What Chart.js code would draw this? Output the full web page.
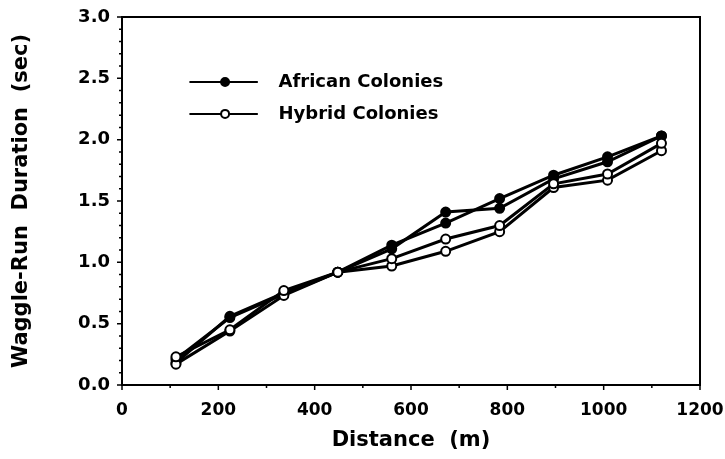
<!DOCTYPE html>
<html>
<head>
<meta charset="utf-8">
<script src="https://cdn.jsdelivr.net/npm/chart.js"></script>
<style>
  html, body { margin: 0; padding: 0; background: #fff; }
  #wrap { width: 725px; height: 459px; }
</style>
</head>
<body>
<div id="wrap"><canvas id="chart" width="725" height="459"></canvas></div>
<script>
// distances (m) and waggle-run durations (sec)
const distances = [112, 224, 336, 448, 560, 672, 784, 896, 1008, 1120];
const african1 = [0.18, 0.56, 0.75, 0.92, 1.11, 1.41, 1.44, 1.68, 1.82, 2.03];
const african2 = [0.21, 0.55, 0.74, 0.92, 1.14, 1.32, 1.52, 1.71, 1.86, 2.03];
const hybrid1  = [0.23, 0.45, 0.77, 0.92, 1.03, 1.19, 1.30, 1.64, 1.72, 1.97];
const hybrid2  = [0.17, 0.44, 0.73, 0.92, 0.97, 1.09, 1.25, 1.61, 1.67, 1.91];
const legendLabels = ['African Colonies', 'Hybrid Colonies'];
const xTicks = [0, 200, 400, 600, 800, 1000, 1200];
const yTicks = [0, 0.5, 1.0, 1.5, 2.0, 2.5, 3.0];

const FONT = 'DejaVu Sans';

const pts = vals => vals.map((v, i) => ({ x: distances[i], y: v }));

const series = (vals, filled) => ({
  data: pts(vals),
  borderColor: '#000',
  borderWidth: 3,
  pointRadius: 4.5,
  pointBorderWidth: 2,
  pointBorderColor: '#000',
  pointBackgroundColor: filled ? '#000' : '#fff',
  tension: 0,
  fill: false
});

// box frame + major/minor ticks
const framePlugin = {
  id: 'frame',
  afterDatasetsDraw(chart) {
    const { ctx, chartArea: a, scales: { x, y } } = chart;
    ctx.save();
    ctx.strokeStyle = '#000';
    ctx.lineWidth = 2;
    ctx.strokeRect(a.left, a.top, a.right - a.left, a.bottom - a.top);
    ctx.lineWidth = 1.5;
    ctx.beginPath();
    for (let v = 0; v <= 1200; v += 100) {
      const px = x.getPixelForValue(v);
      const len = v % 200 === 0 ? 5 : 3;
      ctx.moveTo(px, a.bottom);
      ctx.lineTo(px, a.bottom + len);
    }
    for (let k = 0; k <= 30; k++) {
      const py = y.getPixelForValue(k / 10);
      const len = k % 5 === 0 ? 5 : 3;
      ctx.moveTo(a.left, py);
      ctx.lineTo(a.left - len, py);
    }
    ctx.stroke();
    ctx.restore();
  }
};

// legend drawn inside the plot area
const legendPlugin = {
  id: 'insideLegend',
  afterDraw(chart) {
    const { ctx, scales: { x, y } } = chart;
    const rows = [
      { label: legendLabels[0], filled: true, val: 2.47 },
      { label: legendLabels[1], filled: false, val: 2.21 }
    ];
    ctx.save();
    rows.forEach(r => {
      const py = y.getPixelForValue(r.val);
      const x0 = x.getPixelForValue(140);
      const x1 = x.getPixelForValue(282);
      const xm = x.getPixelForValue(214);
      ctx.strokeStyle = '#000';
      ctx.lineWidth = 2;
      ctx.beginPath();
      ctx.moveTo(x0, py);
      ctx.lineTo(x1, py);
      ctx.stroke();
      ctx.beginPath();
      ctx.arc(xm, py, 4, 0, Math.PI * 2);
      ctx.fillStyle = r.filled ? '#000' : '#fff';
      ctx.fill();
      ctx.lineWidth = 2;
      ctx.stroke();
      ctx.fillStyle = '#000';
      ctx.font = 'bold 18px "' + FONT + '"';
      ctx.textBaseline = 'middle';
      ctx.textAlign = 'left';
      ctx.fillText(r.label, x.getPixelForValue(325), py);
    });
    ctx.restore();
  }
};

new Chart(document.getElementById('chart'), {
  type: 'line',
  data: {
    datasets: [
      series(hybrid1, false),
      series(hybrid2, false),
      series(african1, true),
      series(african2, true)
    ]
  },
  options: {
    responsive: false,
    animation: false,
    layout: { padding: { top: 17, right: 25, left: 0, bottom: 0 } },
    plugins: {
      legend: { display: false },
      tooltip: { enabled: false }
    },
    scales: {
      x: {
        type: 'linear',
        min: 0,
        max: 1200,
        afterFit(s) { s.height = 74; s.paddingLeft = 0; s.paddingRight = 0; },
        afterBuildTicks(s) { s.ticks = xTicks.map(v => ({ value: v })); },
        grid: { display: false, drawTicks: false },
        border: { display: false },
        ticks: {
          color: '#000',
          padding: 15,
          maxRotation: 0,
          callback: v => String(v),
          font: { family: FONT, size: 17, weight: 'bold' }
        },
        title: {
          display: true,
          text: 'Distance  (m)',
          color: '#000',
          padding: { top: 0, bottom: 6 },
          font: { family: FONT, size: 21, weight: 'bold' }
        }
      },
      y: {
        type: 'linear',
        min: 0,
        max: 3,
        afterFit(s) { s.width = 122; s.paddingTop = 0; s.paddingBottom = 0; },
        afterBuildTicks(s) { s.ticks = yTicks.map(v => ({ value: v })); },
        grid: { display: false, drawTicks: false },
        border: { display: false },
        ticks: {
          color: '#000',
          padding: 12,
          callback: v => v.toFixed(1),
          font: { family: FONT, size: 18, weight: 'bold' }
        },
        title: {
          display: true,
          text: 'Waggle-Run  Duration  (sec)',
          color: '#000',
          padding: { top: 9, bottom: 0 },
          font: { family: FONT, size: 21, weight: 'bold' }
        }
      }
    }
  },
  plugins: [framePlugin, legendPlugin]
});
</script>
</body>
</html>
